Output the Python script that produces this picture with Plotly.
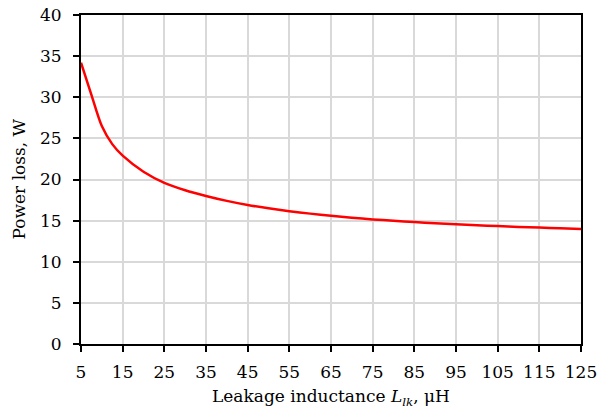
import plotly.graph_objects as go

x_vals = [5, 7.5, 10, 12.5, 15, 20, 25, 30, 35, 40, 45, 50, 55, 60, 65, 70, 75, 80, 85, 90, 95, 100, 105, 110, 115, 120, 125]
loss_w = [34.2, 30.3, 26.5, 24.3, 22.9, 20.95, 19.6, 18.7, 18.0, 17.4, 16.9, 16.5, 16.15, 15.85, 15.58, 15.35, 15.15, 14.98, 14.82, 14.68, 14.55, 14.44, 14.34, 14.24, 14.15, 14.06, 13.97]
x_ticks = [5, 15, 25, 35, 45, 55, 65, 75, 85, 95, 105, 115, 125]
y_ticks = [0, 5, 10, 15, 20, 25, 30, 35, 40]

font_family = "DejaVu Serif, Liberation Serif, serif"

fig = go.Figure()
fig.add_trace(go.Scatter(x=x_vals, y=loss_w, mode="lines",
                         line=dict(color="#ff0000", width=2.5, shape="spline", smoothing=0.8),
                         showlegend=False))

fig.update_layout(
    width=600, height=414,
    margin=dict(l=81, r=19, t=15, b=70, autoexpand=False),
    paper_bgcolor="white", plot_bgcolor="white",
    font=dict(family=font_family, size=17, color="black"),
    xaxis=dict(range=[5, 125], tickvals=x_ticks, ticktext=[str(t) for t in x_ticks],
               showgrid=True, gridcolor="#d9d9d9", gridwidth=1.5,
               showline=True, linecolor="black", linewidth=2, mirror=True,
               ticks="outside", ticklen=6, tickcolor="black", tickwidth=1.5,
               ticklabelstandoff=6,
               zeroline=False, automargin=False),
    yaxis=dict(range=[0, 40], tickvals=y_ticks,
               showgrid=True, gridcolor="#d9d9d9", gridwidth=1.5,
               showline=True, linecolor="black", linewidth=2, mirror=True,
               ticks="outside", ticklen=6, tickcolor="black", tickwidth=1.5,
               ticklabelstandoff=8,
               zeroline=False, automargin=False),
    annotations=[
        dict(text="Leakage inductance <i>L</i><sub><i>lk</i></sub>, μH",
             xref="paper", yref="paper", x=0.5, y=0, xanchor="center", yanchor="middle",
             yshift=-53, showarrow=False, font=dict(size=17)),
        dict(text="Power loss, W",
             xref="paper", yref="paper", x=0, y=0.5, xanchor="center", yanchor="middle",
             xshift=-63, textangle=-90, showarrow=False, font=dict(size=17)),
    ],
)

fig.write_html("out.html")
